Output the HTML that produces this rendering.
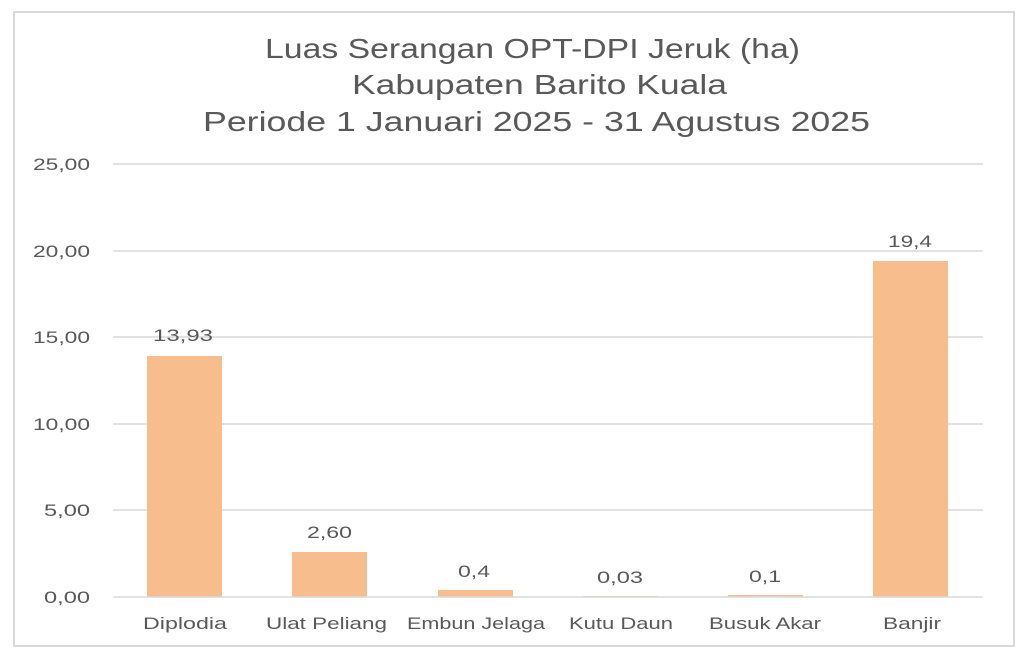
<!DOCTYPE html><html><head><style>body{margin:0;background:#fff}</style></head><body>
<svg width="1027" height="659" xmlns="http://www.w3.org/2000/svg" font-family="'Liberation Sans',sans-serif">
<rect x="14" y="12" width="1000" height="634" fill="#fff" stroke="#d9d9d9" stroke-width="2"/>
<g fill="#595959" font-size="28">
<text x="265" y="58" textLength="535" lengthAdjust="spacingAndGlyphs">Luas Serangan OPT-DPI Jeruk (ha)</text>
<text x="352" y="94" textLength="375" lengthAdjust="spacingAndGlyphs">Kabupaten Barito Kuala</text>
<text x="203" y="131" textLength="667" lengthAdjust="spacingAndGlyphs">Periode 1 Januari 2025 - 31 Agustus 2025</text></g>
<g stroke="#d9d9d9" stroke-width="1.5">
<line x1="113" x2="983" y1="164" y2="164"/><line x1="113" x2="983" y1="251" y2="251"/><line x1="113" x2="983" y1="337" y2="337"/><line x1="113" x2="983" y1="424" y2="424"/><line x1="113" x2="983" y1="510" y2="510"/></g>
<g fill="#595959" font-size="17">
<text x="33" y="170" textLength="57" lengthAdjust="spacingAndGlyphs">25,00</text><text x="33" y="257" textLength="57" lengthAdjust="spacingAndGlyphs">20,00</text><text x="33" y="343" textLength="57" lengthAdjust="spacingAndGlyphs">15,00</text><text x="33" y="430" textLength="57" lengthAdjust="spacingAndGlyphs">10,00</text><text x="44" y="516" textLength="46" lengthAdjust="spacingAndGlyphs">5,00</text><text x="44" y="603" textLength="46" lengthAdjust="spacingAndGlyphs">0,00</text></g>
<g fill="#f8bd8d">
<rect x="147" y="356" width="75" height="241"/><rect x="292" y="552" width="75" height="45"/><rect x="438" y="590" width="75" height="7"/><rect x="583" y="596" width="75" height="1"/><rect x="728" y="595" width="75" height="2"/><rect x="873" y="261" width="75" height="336"/></g>
<line x1="113" x2="983" y1="597" y2="597" stroke="#d9d9d9" stroke-width="1.5"/>
<g fill="#595959" font-size="17">
<text x="153" y="341" textLength="60" lengthAdjust="spacingAndGlyphs">13,93</text><text x="307" y="538" textLength="45" lengthAdjust="spacingAndGlyphs">2,60</text><text x="458" y="577" textLength="32" lengthAdjust="spacingAndGlyphs">0,4</text><text x="597" y="583" textLength="46" lengthAdjust="spacingAndGlyphs">0,03</text><text x="749" y="582" textLength="32" lengthAdjust="spacingAndGlyphs">0,1</text><text x="888" y="247" textLength="44" lengthAdjust="spacingAndGlyphs">19,4</text>
<text x="143" y="629" textLength="84" lengthAdjust="spacingAndGlyphs">Diplodia</text><text x="266" y="629" textLength="121" lengthAdjust="spacingAndGlyphs">Ulat Peliang</text><text x="407" y="629" textLength="138" lengthAdjust="spacingAndGlyphs">Embun Jelaga</text><text x="569" y="629" textLength="104" lengthAdjust="spacingAndGlyphs">Kutu Daun</text><text x="709" y="629" textLength="112" lengthAdjust="spacingAndGlyphs">Busuk Akar</text><text x="883" y="629" textLength="58" lengthAdjust="spacingAndGlyphs">Banjir</text></g>
</svg></body></html>
